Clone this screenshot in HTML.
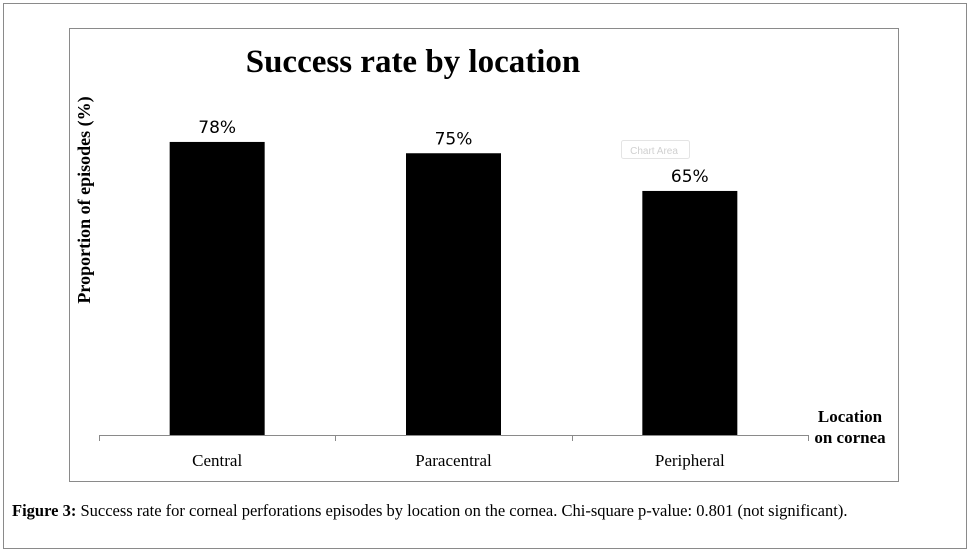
<!DOCTYPE html>
<html><head><meta charset="utf-8"><style>
body{margin:0;background:#fff;width:970px;height:552px;overflow:hidden}
svg{display:block}
</style></head><body>
<svg id="c" width="970" height="552" viewBox="0 0 970 552" xmlns="http://www.w3.org/2000/svg">
<rect x="3.5" y="3.5" width="963" height="545" fill="#fff" stroke="#8a8a8a"/>
<rect x="69.5" y="28.5" width="829" height="453" fill="#fff" stroke="#8a8a8a"/>
<text x="413" y="72" text-anchor="middle" font-family="Liberation Serif, serif" font-weight="bold" font-size="33">Success rate by location</text>
<text transform="translate(90,200) rotate(-90)" text-anchor="middle" font-family="Liberation Serif, serif" font-weight="bold" font-size="18">Proportion of episodes (%)</text>
<text x="850" y="422" text-anchor="middle" font-family="Liberation Serif, serif" font-weight="bold" font-size="17">Location</text>
<text x="850" y="443" text-anchor="middle" font-family="Liberation Serif, serif" font-weight="bold" font-size="17">on cornea</text>
<g id="bars"></g>
<line x1="99" y1="435.5" x2="808" y2="435.5" stroke="#8a8a8a"/>
<g id="ticks"></g>
<rect x="621.5" y="140.5" width="68" height="18" rx="2" fill="#fff" stroke="#e4e4e4"/>
<text x="654" y="154" text-anchor="middle" font-family="Liberation Sans, sans-serif" font-size="10" fill="#d0d0d0">Chart Area</text>
<text x="12" y="516" font-family="Liberation Serif, serif" font-size="16.5"><tspan font-weight="bold">Figure 3:</tspan> Success rate for corneal perforations episodes by location on the cornea. Chi-square p-value: 0.801 (not significant).</text>
</svg>
<script>
const categories = ["Central", "Paracentral", "Peripheral"];
const values = [78, 75, 65];
const valueLabels = ["78%", "75%", "65%"];
const NS = "http://www.w3.org/2000/svg";
const x0 = 99, x1 = 808, yBase = 436, pxPerPct = 3.77;
const band = (x1 - x0) / categories.length;
const barW = 95;
function xCenter(i){ return x0 + band * (i + 0.5); }
function yScale(v){ return yBase - v * pxPerPct; }
const bars = document.getElementById('bars');
const ticks = document.getElementById('ticks');
categories.forEach((c, i) => {
  const r = document.createElementNS(NS, 'rect');
  r.setAttribute('x', xCenter(i) - barW / 2);
  r.setAttribute('y', yScale(values[i]));
  r.setAttribute('width', barW);
  r.setAttribute('height', yBase - yScale(values[i]));
  r.setAttribute('fill', '#000');
  
  
  bars.appendChild(r);
  const t = document.createElementNS(NS, 'text');
  t.setAttribute('x', xCenter(i));
  t.setAttribute('y', yScale(values[i]) - 9);
  t.setAttribute('text-anchor', 'middle');
  t.setAttribute('font-family', 'DejaVu Sans, sans-serif');
  t.setAttribute('font-size', '17');
  t.textContent = valueLabels[i];
  
  
  bars.appendChild(t);
  const l = document.createElementNS(NS, 'text');
  l.setAttribute('x', xCenter(i));
  l.setAttribute('y', 466);
  l.setAttribute('text-anchor', 'middle');
  l.setAttribute('font-family', 'Liberation Serif, serif');
  l.setAttribute('font-size', '17');
  l.textContent = c;
  
  
  ticks.appendChild(l);
});
for (let i = 0; i <= categories.length; i++) {
  const tk = document.createElementNS(NS, 'line');
  const x = Math.round(x0 + band * i) + 0.5;
  tk.setAttribute('x1', x); tk.setAttribute('x2', x);
  tk.setAttribute('y1', 435); tk.setAttribute('y2', 441);
  tk.setAttribute('stroke', '#8a8a8a');
  
  
  ticks.appendChild(tk);
}
</script>
</body></html>
